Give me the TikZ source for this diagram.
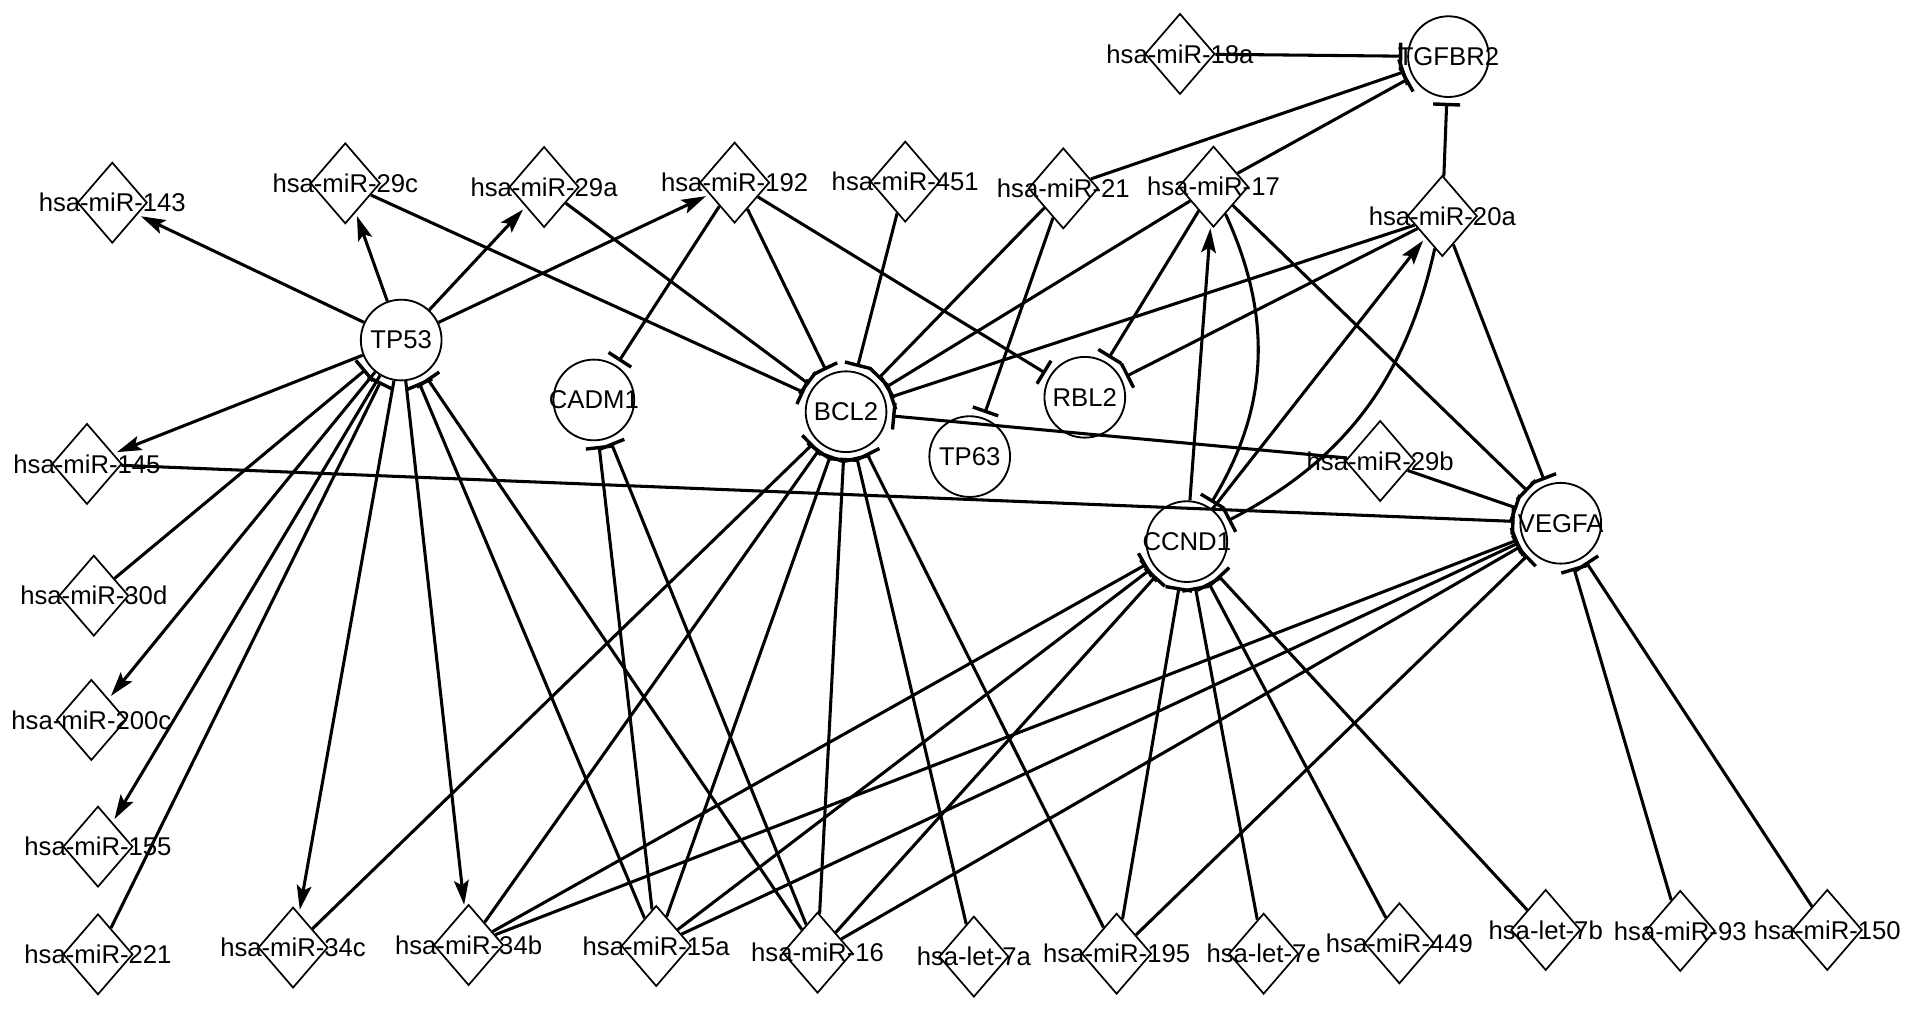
\documentclass[tikz,border=0pt]{standalone}
\usepackage{fontspec}
\setmainfont{Liberation Sans}
\usetikzlibrary{shapes.geometric,arrows.meta}
\begin{document}
\begin{tikzpicture}[x=1pt,y=-1pt,
  mir/.style={diamond,draw,line width=1.4pt,minimum width=57pt,minimum height=66pt,inner sep=0pt},
  gene/.style={circle,draw,line width=1.5pt,minimum size=66pt,inner sep=0pt},
  lab/.style={font=\fontsize{21}{24}\selectfont,inner sep=0pt},
  edge/.style={line width=2.5pt},
  act/.style={edge,-{Stealth[length=20pt,width=12pt,inset=4pt]},shorten >=3pt},
  inh/.style={edge,-{Bar[width=22pt,line width=2.8pt]},shorten >=4pt}]
\useasboundingbox (0,0) rectangle (1564,826.6);
% miRNA diamonds
\foreach \n/\x/\y/\t in {
  m143/91.8/165.7/hsa-miR-143, m29c/282.3/149.9/hsa-miR-29c, m29a/444.8/152.9/hsa-miR-29a,
  m192/600.6/149.3/hsa-miR-192, m451/740.1/148.5/hsa-miR-451, m18a/964.7/44.1/hsa-miR-18a,
  m21/869.3/154/hsa-miR-21, m17/992.1/152.6/hsa-miR-17, m20a/1179.2/176.6/hsa-miR-20a,
  m29b/1128.4/376.9/hsa-miR-29b, m145/71.1/379.3/hsa-miR-145, m30d/76.7/487/hsa-miR-30d,
  m200c/74.7/588.6/hsa-miR-200c, m155/80.1/692.2/hsa-miR-155, m221/80.1/780.2/hsa-miR-221,
  m34c/239.6/774.7/hsa-miR-34c, m34b/383.1/772.6/hsa-miR-34b, m15a/536.5/773.4/hsa-miR-15a,
  m16/668.4/778.9/hsa-miR-16, l7a/796.2/782.1/hsa-let-7a, m195/912.9/779.7/hsa-miR-195,
  l7e/1033.1/779.7/hsa-let-7e, m449/1144.1/771.2/hsa-miR-449, l7b/1263.7/760.3/hsa-let-7b,
  m93/1373.7/761.1/hsa-miR-93, m150/1493.9/760.3/hsa-miR-150}
{ \node[mir] (\n) at (\x,\y) {}; \node[lab] (\n-t) at (\n) {\t}; }
% gene circles
\foreach \n/\x/\y/\t in {
  TGFBR2/1184.2/46.3/TGFBR2, TP53/328/278/TP53, CADM1/485.5/327/CADM1,
  BCL2/691.7/336.6/BCL2, TP63/792.8/373.3/TP63, RBL2/886.9/324.8/RBL2,
  CCND1/970.3/442.8/CCND1, VEGFA/1276/427.8/VEGFA}
{ \node[gene] (\n) at (\x,\y) {}; \node[lab] (\n-t) at (\n) {\t}; }
% activations
\foreach \b in {m143,m29c,m29a,m192,m145,m200c,m155,m34c,m34b}
  \draw[act] (TP53) -- (\b);
\draw[act] (CCND1) -- (m17);
\draw[act] (CCND1) -- (m20a);
% inhibitions
\foreach \a in {m18a,m21,m17,m20a} \draw[inh] (\a) -- (TGFBR2);
\foreach \a in {m30d,m221,m15a,m16} \draw[inh] (\a) -- (TP53);
\foreach \a in {m192,m15a,m16} \draw[inh] (\a) -- (CADM1);
\foreach \a in {m29c,m29a,m192,m451,m21,m17,m20a,m29b,m34c,m34b,m15a,m16,l7a,m195}
  \draw[inh] (\a) -- (BCL2);
\foreach \a in {m192,m17,m20a} \draw[inh] (\a) -- (RBL2);
\draw[inh] (m21) -- (TP63);
\foreach \a in {m34b,m15a,m16,m195,l7e,m449,l7b} \draw[inh] (\a) -- (CCND1);
\draw[inh] (m17) to[bend left=28] (CCND1);
\draw[inh] (m20a) to[bend left=25] (CCND1);
\foreach \a in {m17,m20a,m29b,m145,m34b,m15a,m16,m195,m93,m150}
  \draw[inh] (\a) -- (VEGFA);
\end{tikzpicture}
\end{document}
